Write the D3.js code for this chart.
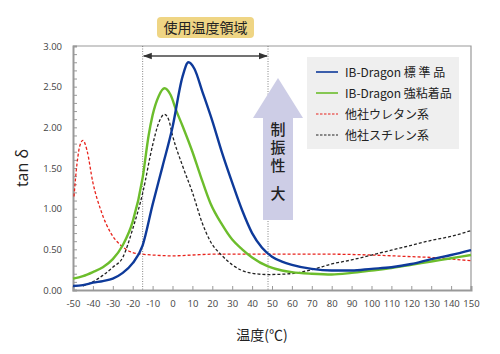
<!DOCTYPE html>
<html>
<head>
<meta charset="utf-8">
<script src="https://cdn.jsdelivr.net/npm/d3@7"></script>
<style>
  body { margin: 0; background: #fff; }
  text { font-family: "Noto Sans CJK JP", "Noto Sans", sans-serif; }
</style>
</head>
<body>
<div id="chart"></div>
<script>
// temperature (°C), tan δ
var standardData = [[-50,0.05],[-45,0.06],[-40,0.09],[-35,0.11],[-30,0.14],[-25,0.21],[-20,0.33],[-15,0.55],[-10,1.05],[-5,1.52],[0,2.0],[5,2.62],[8,2.80],[11,2.72],[15,2.44],[20,2.08],[25,1.68],[30,1.32],[35,0.98],[40,0.70],[45,0.52],[50,0.41],[55,0.35],[60,0.31],[70,0.26],[80,0.24],[90,0.24],[100,0.26],[110,0.28],[120,0.32],[130,0.38],[140,0.43],[150,0.49]];
var strongData = [[-50,0.14],[-45,0.17],[-40,0.22],[-35,0.28],[-30,0.38],[-25,0.55],[-20,0.84],[-15,1.38],[-12,1.9],[-10,2.15],[-7,2.38],[-4,2.48],[-1,2.40],[2,2.2],[5,2.02],[10,1.7],[14,1.41],[19,1.07],[25,0.8],[30,0.62],[35,0.5],[40,0.4],[48,0.29],[55,0.24],[60,0.22],[70,0.2],[80,0.19],[90,0.21],[100,0.24],[110,0.27],[120,0.31],[130,0.35],[140,0.39],[150,0.43]];
var urethaneData = [[-49.5,1.15],[-48,1.55],[-46.5,1.78],[-45,1.84],[-43,1.72],[-40,1.32],[-36,0.98],[-31,0.7],[-26,0.55],[-20,0.46],[-15,0.44],[-10,0.43],[0,0.42],[10,0.43],[20,0.44],[40,0.44],[60,0.44],[80,0.44],[100,0.43],[120,0.41],[130,0.4],[140,0.38],[150,0.36]];
var styreneData = [[-45,0.05],[-40,0.1],[-35,0.18],[-30,0.28],[-25,0.4],[-20,0.75],[-15,1.19],[-10,1.78],[-7,2.05],[-4,2.16],[-2,2.1],[0,1.9],[5,1.53],[10,1.2],[15,0.82],[19,0.6],[25,0.42],[30,0.31],[39,0.21],[48,0.19],[59,0.2],[70,0.25],[80,0.32],[90,0.37],[100,0.43],[110,0.49],[120,0.55],[130,0.61],[140,0.66],[150,0.73]];

var seriesNames = ["IB-Dragon 標 準 品", "IB-Dragon 強粘着品", "他社ウレタン系", "他社スチレン系"];
var seriesColors = ["#0e3a9a", "#6cbd2c", "#e8231c", "#222222"];
var seriesDashed = [false, false, true, true];
var seriesData = [standardData, strongData, urethaneData, styreneData];

var xTicks = d3.range(-50, 151, 10);
var yTicks = d3.range(0, 3.001, 0.1);
var rangeLow = -15, rangeHigh = 48;

var width = 500, height = 354;
var margin = { top: 46, right: 29, bottom: 64, left: 73 };
var innerW = width - margin.left - margin.right;
var innerH = height - margin.top - margin.bottom;

var svg = d3.select("#chart").append("svg")
  .attr("width", width).attr("height", height);

var x = d3.scaleLinear().domain([-50, 150]).range([margin.left, margin.left + innerW]);
var y = d3.scaleLinear().domain([0, 3]).range([margin.top + innerH, margin.top]);

// frame top/right
svg.append("path")
  .attr("d", "M" + x(-50) + "," + y(3) + "H" + x(150) + "V" + y(0))
  .attr("fill", "none").attr("stroke", "#999").attr("stroke-width", 1.2);

// y axis
var yAxis = svg.append("g")
  .attr("transform", "translate(" + x(-50) + ",0)")
  .call(d3.axisLeft(y).tickValues(yTicks).tickSize(-4).tickPadding(11)
    .tickFormat(function (d) { return Math.abs(d * 2 - Math.round(d * 2)) < 1e-6 ? d.toFixed(2) : ""; }));
yAxis.select(".domain").attr("stroke", "#999").attr("stroke-width", 2);
yAxis.selectAll(".tick line").attr("stroke", "#999");
yAxis.selectAll("text").attr("fill", "#444").style("font-size", "9.5px").style("font-family", "'Open Sans', sans-serif");

// x axis
var xAxis = svg.append("g")
  .attr("transform", "translate(0," + y(0) + ")")
  .call(d3.axisBottom(x).tickValues(xTicks).tickSize(-4).tickPadding(10)
    .tickFormat(function (d) { return String(d); }));
xAxis.select(".domain").attr("stroke", "#999").attr("stroke-width", 2);
xAxis.selectAll(".tick line").attr("stroke", "#999");
xAxis.selectAll("text").attr("fill", "#444").style("font-size", "9.5px").style("font-family", "'Open Sans', sans-serif");

// usage range dotted lines
[rangeLow, rangeHigh].forEach(function (t) {
  svg.append("line")
    .attr("x1", x(t)).attr("x2", x(t))
    .attr("y1", y(3)).attr("y2", y(0))
    .attr("stroke", "#666").attr("stroke-width", 0.8)
    .attr("stroke-dasharray", "1,1.5");
});

var defs = svg.append("defs");
defs.append("marker").attr("id", "ah")
  .attr("viewBox", "0 0 10 10").attr("refX", 9).attr("refY", 5)
  .attr("markerWidth", 7).attr("markerHeight", 7).attr("orient", "auto-start-reverse")
  .append("path").attr("d", "M0,1.5L10,5L0,8.5Z").attr("fill", "#333");

svg.append("line")
  .attr("x1", x(rangeLow) + 1).attr("x2", x(rangeHigh) - 1)
  .attr("y1", 56).attr("y2", 56)
  .attr("stroke", "#444").attr("stroke-width", 1.3)
  .attr("marker-start", "url(#ah)").attr("marker-end", "url(#ah)");

// header label
svg.append("rect")
  .attr("x", 157).attr("y", 17).attr("width", 97).attr("height", 21).attr("rx", 4)
  .attr("fill", "#efd584");
svg.append("text")
  .attr("x", 205.5).attr("y", 32.5).attr("text-anchor", "middle")
  .attr("fill", "#222").style("font-size", "14px")
  .text("使用温度領域");

// big arrow
var ax = 278;
svg.append("path")
  .attr("d", "M" + ax + ",78 L" + (ax + 25) + ",118 L" + (ax + 15) + ",118 L" + (ax + 15) + ",220 L" + (ax - 15) + ",220 L" + (ax - 15) + ",118 L" + (ax - 25) + ",118 Z")
  .attr("fill", "#cdcde6");
svg.append("text").attr("x", ax).attr("y", 122)
  .style("writing-mode", "vertical-rl").style("letter-spacing", "3px")
  .attr("fill", "#222")
  .style("font-size", "15px").style("font-weight", "500").text("制振性");
svg.append("text").attr("x", ax).attr("y", 199)
  .attr("text-anchor", "middle").attr("fill", "#222")
  .style("font-size", "15px").style("font-weight", "500").text("大");

// curves
var line = d3.line()
  .x(function (d) { return x(d[0]); })
  .y(function (d) { return y(d[1]); })
  .curve(d3.curveMonotoneX);

var order = [2, 3, 1, 0];
order.forEach(function (i) {
  svg.append("path")
    .datum(seriesData[i])
    .attr("d", line)
    .attr("fill", "none")
    .attr("stroke", seriesColors[i])
    .attr("stroke-width", seriesDashed[i] ? 1.3 : 2.4)
    .attr("stroke-dasharray", seriesDashed[i] ? "3,2" : null);
});

// legend
var legend = svg.append("g");
legend.append("rect")
  .attr("x", 307).attr("y", 57).attr("width", 152).attr("height", 92)
  .attr("fill", "#efefef");
seriesNames.forEach(function (name, i) {
  var ly = 72 + i * 21;
  legend.append("line")
    .attr("x1", 316).attr("x2", 338).attr("y1", ly).attr("y2", ly)
    .attr("stroke", seriesColors[i])
    .attr("stroke-width", seriesDashed[i] ? 1.2 : 1.6)
    .attr("stroke-dasharray", seriesDashed[i] ? "2.5,1.5" : null);
  legend.append("text")
    .attr("x", 345).attr("y", ly + 4.5)
    .attr("fill", "#222").style("font-size", "12px")
    .text(name);
});

// axis titles
svg.append("text")
  .attr("transform", "translate(28,168) rotate(-90)")
  .attr("text-anchor", "middle").attr("fill", "#222")
  .style("font-size", "16px").style("font-family", "'Open Sans', sans-serif")
  .text("tan δ");
svg.append("text")
  .attr("x", 262).attr("y", 340)
  .attr("text-anchor", "middle").attr("fill", "#222")
  .style("font-size", "14px")
  .text("温度(℃)");
</script>
</body>
</html>
